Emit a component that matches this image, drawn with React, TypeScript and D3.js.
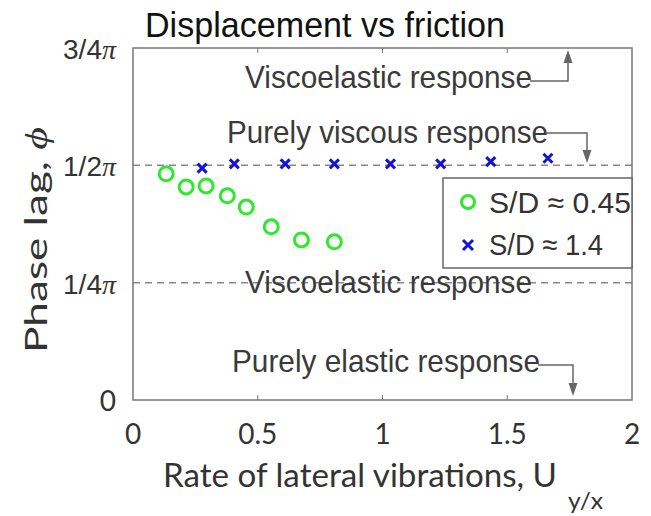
import React from "react";
import * as d3 from "d3";

// Data (x: rate of lateral vibrations, y: phase lag in units of π)
const greenX = [0.133, 0.213, 0.293, 0.378, 0.454, 0.554, 0.675, 0.807];
const greenY = [0.482, 0.454, 0.456, 0.435, 0.411, 0.369, 0.341, 0.337];
const blueX = [0.277, 0.406, 0.61, 0.807, 1.032, 1.233, 1.434, 1.663];
const blueY = [0.494, 0.503, 0.503, 0.503, 0.503, 0.503, 0.508, 0.515];
const xTicks = [0, 0.5, 1, 1.5, 2];
const yTicks = [0, 0.25, 0.5, 0.75];
const yTickLabels = ["0", "1/4", "1/2", "3/4"];
const legendLabels = ["S/D ≈ 0.45", "S/D ≈ 1.4"];

const W = 651;
const H = 516;
const ARIAL = "'Liberation Sans', Arial, sans-serif";
const CAL = "Lato, 'Open Sans', sans-serif";
const SERIF = "'Liberation Serif', 'DejaVu Serif', serif";

export default function App() {
  const x = d3.scaleLinear().domain([0, 2]).range([133, 632]);
  const y = d3.scaleLinear().domain([0, 0.75]).range([400, 48]);
  const annColor = "#3a3a3a";
  const green = "#2ee82e";
  const blue = "#1414d8";

  const arrow = (path: string) => (
    <path d={path} fill="none" stroke="#666" strokeWidth={1.5} />
  );
  const head = (tx: number, ty: number, dir: number) => (
    <path
      d={`M${tx},${ty} L${tx - 4.5},${ty - 13 * dir} L${tx + 4.5},${ty - 13 * dir} Z`}
      fill="#666"
    />
  );

  return (
    <svg width={W} height={H} style={{ position: "absolute", left: 0, top: 0, background: "#fff" }}>
      <rect x={0} y={0} width={W} height={H} fill="#fff" />
      {/* title */}
      <text x={145} y={37} fontFamily={ARIAL} fontSize={35} fill="#111" textLength={360} lengthAdjust="spacingAndGlyphs">
        Displacement vs friction
      </text>

      {/* dashed reference lines */}
      {[0.5, 0.25].map((v) => (
        <line key={v} x1={x(0)} x2={x(2)} y1={y(v)} y2={y(v)} stroke="#888" strokeWidth={1.5} strokeDasharray="7,5" />
      ))}

      {/* frame */}
      <rect x={x(0)} y={y(0.75)} width={x(2) - x(0)} height={y(0) - y(0.75)} fill="none" stroke="#777" strokeWidth={1.5} />
      {xTicks.slice(1, -1).map((t) => (
        <g key={t}>
          <line x1={x(t)} x2={x(t)} y1={y(0)} y2={y(0) - 5} stroke="#777" />
          <line x1={x(t)} x2={x(t)} y1={y(0.75)} y2={y(0.75) + 5} stroke="#777" />
        </g>
      ))}

      {/* tick labels */}
      {xTicks.map((t) => (
        <text key={t} x={x(t)} y={444} textAnchor="middle" fontFamily={CAL} fontSize={28} fill="#333">
          {t}
        </text>
      ))}
      {yTicks.map((t, i) => (
        <text key={t} x={116} y={y(t) + 11} textAnchor="end" fontFamily={t === 0 ? CAL : ARIAL} fontSize={28} fill="#333">
          {yTickLabels[i]}
          {t !== 0 && (
            <tspan fontFamily={SERIF} fontStyle="italic">π</tspan>
          )}
        </text>
      ))}

      {/* axis labels */}
      <text x={163} y={487} fontFamily={CAL} fontSize={33} fill="#333" textLength={394} lengthAdjust="spacingAndGlyphs">
        Rate of lateral vibrations, U
      </text>
      <text x={568} y={509} fontFamily={CAL} fontSize={23} fill="#333" textLength={35} lengthAdjust="spacingAndGlyphs">
        y/x
      </text>
      <text transform={`translate(47,${240}) rotate(-90)`} textAnchor="middle" fontFamily={CAL} fontSize={31} fill="#333" textLength={226} lengthAdjust="spacingAndGlyphs">
        Phase lag, <tspan fontFamily={SERIF} fontStyle="italic">ϕ</tspan>
      </text>

      {/* annotations */}
      <text x={245} y={88} fontFamily={ARIAL} fontSize={32} fill={annColor} textLength={287} lengthAdjust="spacingAndGlyphs">
        Viscoelastic  response
      </text>
      {arrow(`M530,81 H568 V62`)}
      {head(568, 50, -1)}

      <text x={227} y={143} fontFamily={ARIAL} fontSize={32} fill={annColor} textLength={321} lengthAdjust="spacingAndGlyphs">
        Purely viscous  response
      </text>
      {arrow(`M546,133 H587 V150`)}
      {head(587, 163, 1)}

      <text x={245} y={293} fontFamily={ARIAL} fontSize={32} fill={annColor} textLength={287} lengthAdjust="spacingAndGlyphs">
        Viscoelastic  response
      </text>

      <text x={232} y={372} fontFamily={ARIAL} fontSize={32} fill={annColor} textLength={308} lengthAdjust="spacingAndGlyphs">
        Purely elastic  response
      </text>
      {arrow(`M538,365 H573 V383`)}
      {head(573, 396, 1)}

      {/* legend */}
      <rect x={443} y={178} width={189} height={90} fill="#fff" stroke="#666" strokeWidth={1.5} />
      <circle cx={468} cy={202} r={6.5} fill="none" stroke={green} strokeWidth={3} />
      <text x={489} y={213} fontFamily={ARIAL} fontSize={30} fill="#333" textLength={142} lengthAdjust="spacingAndGlyphs">{legendLabels[0]}</text>
      <path d={`M463,240 L473,250 M473,240 L463,250`} stroke={blue} strokeWidth={3} />
      <text x={489} y={255} fontFamily={ARIAL} fontSize={30} fill="#333" textLength={114} lengthAdjust="spacingAndGlyphs">{legendLabels[1]}</text>

      {/* data */}
      {greenX.map((gx, i) => (
        <circle key={"g" + i} cx={x(gx)} cy={y(greenY[i])} r={7} fill="none" stroke={green} strokeWidth={3} />
      ))}
      {blueX.map((bx, i) => {
        const cx = x(bx);
        const cy = y(blueY[i]);
        const s = 4.5;
        return (
          <path key={"b" + i} d={`M${cx - s},${cy - s} L${cx + s},${cy + s} M${cx + s},${cy - s} L${cx - s},${cy + s}`} stroke={blue} strokeWidth={3} />
        );
      })}
    </svg>
  );
}
